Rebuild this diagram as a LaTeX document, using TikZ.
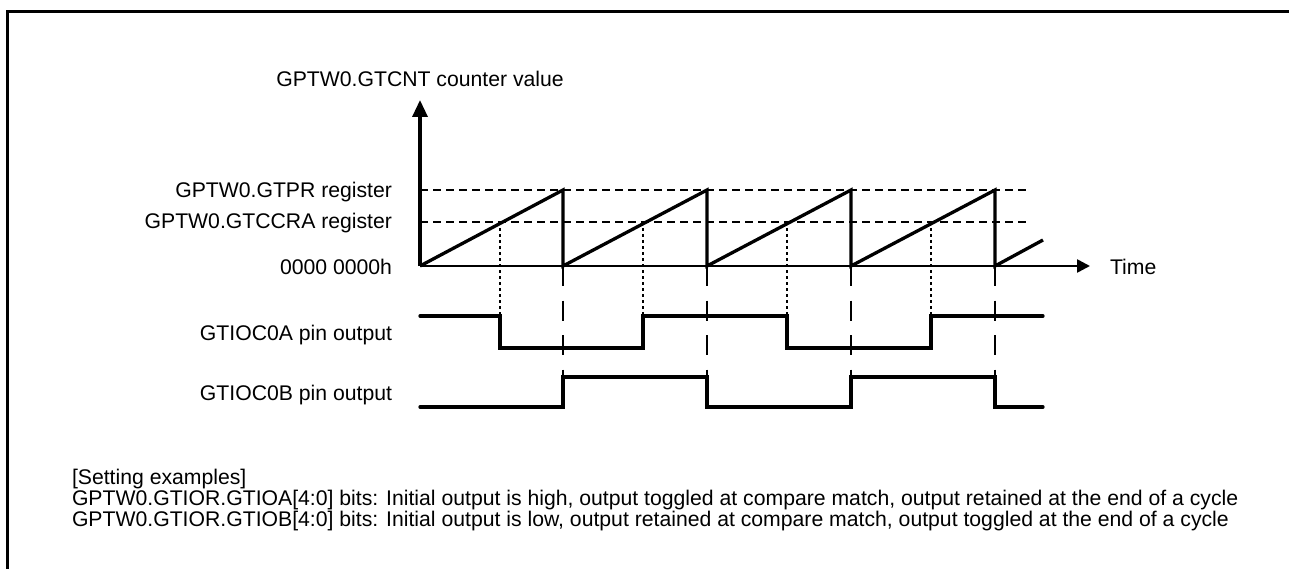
\documentclass[tikz,border=0pt]{standalone}
\usepackage{fontspec}
\setmainfont{Liberation Sans}
\usetikzlibrary{arrows.meta}
\begin{document}
\begin{tikzpicture}[x=1pt,y=-1pt,
  every node/.style={inner sep=0pt,outer sep=0pt,font=\fontsize{21.2}{21.2}\selectfont},
  frameline/.style={line width=3pt},
  axisline/.style={line width=3.3pt},
  timeaxis/.style={line width=2.5pt},
  ramp/.style={line width=3.3pt,line join=miter},
  wave/.style={line width=3.3pt,line cap=round,line join=miter},
  levelline/.style={line width=2.4pt,dash pattern=on 8pt off 5pt},
  matchline/.style={line width=2.5pt,dash pattern=on 3pt off 3pt},
  cycleline/.style={line width=2.4pt,dash pattern=on 20pt off 14.5pt},
  lbl/.style={anchor=base east}]
\useasboundingbox (0,0) rectangle (1289,569);
% frame (cropped)
\draw[frameline] (7,569) -- (7,12) -- (1289,12);

% coordinates
\coordinate (O) at (420,266);
\coordinate (Ytop) at (420,100);
\coordinate (Tend) at (1090,266);
\foreach \i/\x in {0/420,1/563,2/707,3/851,4/995}{
  \coordinate (b\i) at (\x,266);
  \coordinate (p\i) at (\x,190);
  \coordinate (q\i) at (\x,377);
}
\foreach \i/\x in {1/500,2/643,3/787,4/931}{
  \coordinate (m\i) at (\x,222);
  \coordinate (h\i) at (\x,316);
}
\coordinate (prL) at (420,190);
\coordinate (prR) at (1028,190);
\coordinate (ccL) at (420,222);
\coordinate (ccR) at (1028,222);
\coordinate (rampend) at (1043,240);

% labels
\node[anchor=base] (title) at (420,87) {GPTW0.GTCNT counter value};
\node[lbl] (lpr) at (392,198) {GPTW0.GTPR register};
\node[lbl] (lcc) at (392,229) {GPTW0.GTCCRA register};
\node[lbl] (lzero) at (392,274) {0000 0000h};
\node[lbl] (la) at (392,340) {GTIOC0A pin output};
\node[lbl] (lb) at (392,400) {GTIOC0B pin output};
\node[anchor=base west] (ltime) at (1110,274) {Time};
\node[anchor=base west] (s1) at (72,484.5) {[Setting examples]};
\node[anchor=base west] (s2) at (72,505.5) {GPTW0.GTIOR.GTIOA[4:0] bits: Initial output is high, output toggled at compare match, output retained at the end of a cycle};
\node[anchor=base west] (s3) at (72,526.5) {GPTW0.GTIOR.GTIOB[4:0] bits: Initial output is low, output retained at compare match, output toggled at the end of a cycle};

% level lines
\draw[levelline] (prL) -- (prR);
\draw[levelline] (ccL) -- (ccR);

% compare match verticals
\foreach \i in {1,2,3,4} \draw[matchline] (m\i) -- (h\i);
% cycle end verticals
\foreach \i in {1,2,3,4} \draw[cycleline] (b\i) -- (q\i);

% axes
\draw[axisline,-{Triangle[length=17pt,width=15pt]}] (O) -- (Ytop);
\draw[timeaxis,-{Triangle[length=13pt,width=13pt]}] (O) -- (Tend);

% sawtooth
\draw[ramp] (b0) -- (p1) -- (b1) -- (p2) -- (b2) -- (p3) -- (b3) -- (p4) -- (b4) -- (rampend);

% GTIOC0A
\draw[wave] (420,316) -- (h1) -- (500,348) -- (643,348) -- (h2) -- (h3) -- (787,348) -- (931,348) -- (h4) -- (1043,316);
% GTIOC0B
\draw[wave] (420,407) -- (563,407) -- (q1) -- (q2) -- (707,407) -- (851,407) -- (q3) -- (q4) -- (995,407) -- (1043,407);
\end{tikzpicture}
\end{document}
